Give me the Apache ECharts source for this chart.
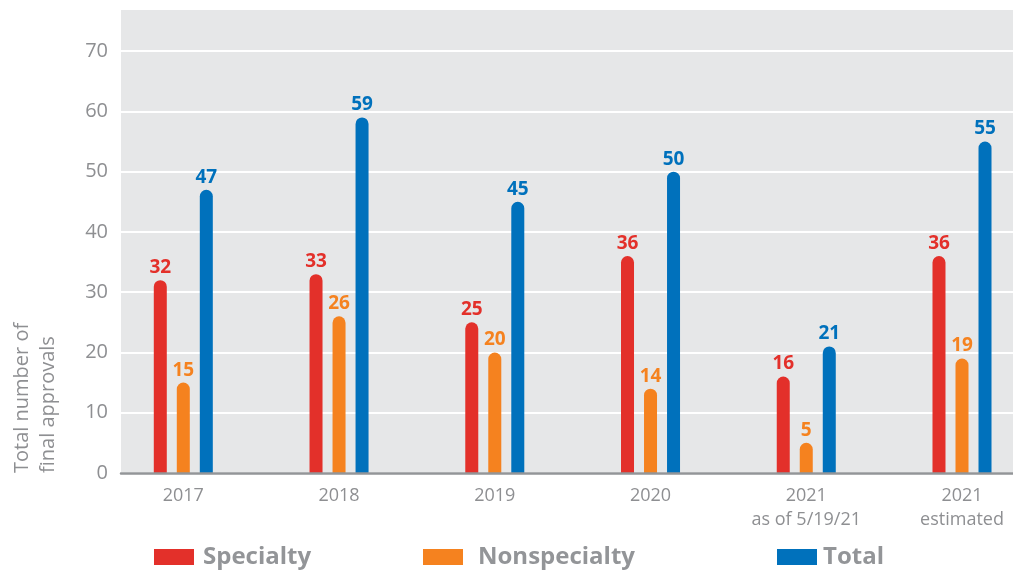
<!DOCTYPE html>
<html>
<head>
<meta charset="utf-8">
<script src="https://cdn.jsdelivr.net/npm/echarts@6/dist/echarts.min.js"></script>
<style>
html,body{margin:0;padding:0;background:#fff;}
#chart{width:1013px;height:571px;}
</style>
</head>
<body>
<div id="chart"></div>
<script>
const categories = ['2017', '2018', '2019', '2020', '2021\nas of 5/19/21', '2021\nestimated'];
const specialty = [32, 33, 25, 36, 16, 36];
const nonspecialty = [15, 26, 20, 14, 5, 19];
const total = [47, 59, 45, 50, 21, 55];
const yTicks = [0, 10, 20, 30, 40, 50, 60, 70];

const RED = '#e3302a', ORANGE = '#f5821f', BLUE = '#0071bc';
const GRAY_TXT = '#8e8f92';
const FONT = '"Open Sans", Lato, sans-serif';

function barSeries(name, data, color) {
  return {
    name: name, type: 'bar', data: data,
    xAxisIndex: 0, yAxisIndex: 0,
    barWidth: 13, barGap: '77%', clip: false,
    itemStyle: { color: color, borderRadius: [6.5, 6.5, 0, 0] },
    label: {
      show: true, position: 'top', distance: 3,
      color: color, fontSize: 19, fontWeight: 'bold', fontFamily: FONT
    }
  };
}

function legendFor(name, left, gap) {
  return {
    data: [name], left: left, top: 545, padding: 0,
    icon: 'rect', itemWidth: 40, itemHeight: 16,
    selectedMode: false,
    textStyle: { color: '#939598', fontSize: 24, fontWeight: 'bold', fontFamily: FONT, padding: [0, 0, 0, gap] }
  };
}

const chart = echarts.init(document.getElementById('chart'));
chart.setOption({
  animation: false,
  backgroundColor: '#ffffff',
  grid: [
    { left: 183.3, width: 778.7, top: 9, bottom: 98 },
    { left: 121, right: 0, top: 9, bottom: 98, show: true, backgroundColor: '#e6e7e8', borderWidth: 0 }
  ],
  xAxis: [
    {
      type: 'category', gridIndex: 0, data: categories, boundaryGap: false,
      axisLine: { show: false }, axisTick: { show: false },
      splitLine: { show: false },
      axisLabel: { color: GRAY_TXT, fontSize: 18, fontFamily: FONT, margin: 11, lineHeight: 24, interval: 0 }
    },
    {
      type: 'category', gridIndex: 1, data: categories, z: 3,
      axisLine: { show: true, lineStyle: { color: '#939598', width: 2.5 } },
      axisTick: { show: false }, axisLabel: { show: false }, splitLine: { show: false }
    }
  ],
  yAxis: [
    { type: 'value', gridIndex: 0, min: 0, max: 77, show: false, splitLine: { show: false } },
    {
      type: 'value', gridIndex: 1, min: 0, max: 77, interval: 10,
      axisLine: { show: false }, axisTick: { show: false },
      axisLabel: {
        color: GRAY_TXT, fontSize: 20, fontFamily: FONT, margin: 13,
        formatter: function (v) { return yTicks.indexOf(v) >= 0 ? String(v) : ''; }
      },
      splitLine: { show: true, lineStyle: { color: '#ffffff', width: 2 } }
    }
  ],
  legend: [
    legendFor('Specialty', 154, 4),
    legendFor('Nonspecialty', 423, 10),
    legendFor('Total', 777, 1)
  ],
  graphic: [
    {
      type: 'text', x: 35, y: 473, rotation: Math.PI / 2,
      style: {
        text: 'Total number of\nfinal approvals',
        fill: GRAY_TXT, fontSize: 20, fontFamily: FONT,
        align: 'left', verticalAlign: 'middle', lineHeight: 26
      }
    }
  ],
  series: [
    barSeries('Specialty', specialty, RED),
    barSeries('Nonspecialty', nonspecialty, ORANGE),
    barSeries('Total', total, BLUE)
  ]
});
</script>
</body>
</html>
